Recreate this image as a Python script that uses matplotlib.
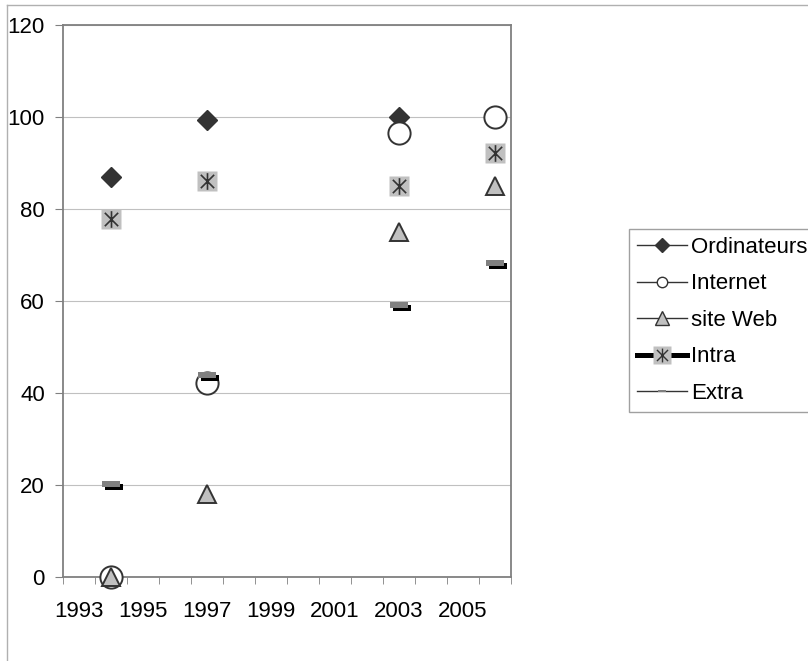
import numpy as np
import matplotlib.pyplot as plt
from matplotlib.lines import Line2D
from matplotlib.path import Path
from matplotlib.transforms import offset_copy

plt.rcParams['font.family'] = ['Liberation Sans', 'DejaVu Sans']

# data
years = [1994, 1997, 2003, 2006]
ordinateurs = [87, 99.3, 100, np.nan]
internet = [0, 42.2, 96.5, 100]
site_web = [0, 18, 75, 85]
intra = [77.8, 86.1, 85, 92.2]
extra = [20.2, 44, 59.1, 68.2]

labels = ['Ordinateurs', 'Internet', 'site Web', 'Intra', 'Extra']

dark = '#333333'
lgray = '#c0c0c0'
mgray = '#808080'

# excel-style asterisk: vertical bar + X
star = Path([(0, -1), (0, 1), (-0.8, -0.8), (0.8, 0.8), (-0.8, 0.8), (0.8, -0.8)],
            [Path.MOVETO, Path.LINETO, Path.MOVETO, Path.LINETO, Path.MOVETO, Path.LINETO])
dash = [(-1, -0.32), (1, -0.32), (1, 0.32), (-1, 0.32), (-1, -0.32)]

fig = plt.figure(figsize=(8.08, 6.61), dpi=100)
ax = fig.add_axes([63/808, 84/661, 448/808, 552/661])

ax.plot(years, ordinateurs, ls='none', marker='D', ms=10, mfc=dark, mec=dark, clip_on=False, zorder=3)
ax.plot(years, internet, ls='none', marker='o', ms=16, mfc='white', mec=dark, mew=1.4, clip_on=False, zorder=3)
ax.plot(years, site_web, ls='none', marker='^', ms=13, mfc=lgray, mec=dark, mew=1.4, clip_on=False, zorder=3)
ax.plot(years, intra, ls='none', marker='s', ms=14, mfc=lgray, mec='none', clip_on=False, zorder=3)
ax.plot(years, intra, ls='none', marker=star, ms=12, mec=dark, mew=1.2, clip_on=False, zorder=3)

shadow = offset_copy(ax.transData, fig=fig, x=3, y=-3, units='dots')
ax.plot(years, extra, ls='none', marker=dash, ms=13.5, mfc='black', mec='black', mew=0,
        transform=shadow, clip_on=False, zorder=3)
ax.plot(years, extra, ls='none', marker=dash, ms=13.5, mfc=mgray, mec=mgray, mew=0, clip_on=False, zorder=3)

# axes
ax.set_xlim(1992.5, 2006.5)
ax.set_ylim(0, 120)
ax.set_xticks(range(1993, 2006, 2))
ax.set_xticks(np.arange(1992.5, 2007, 1), minor=True)
ax.set_yticks(range(0, 121, 20))
ax.tick_params(axis='x', which='major', length=0, pad=17, labelsize=16)
ax.tick_params(axis='x', which='minor', length=5, color=mgray, direction='out')
ax.tick_params(axis='y', length=6, color=mgray, direction='out', pad=7, labelsize=16)
ax.yaxis.grid(True, color=lgray, lw=0.8)
ax.set_axisbelow(True)
for s in ax.spines.values():
    s.set_color(mgray)
    s.set_linewidth(1.3)

# legend
handles = [
    Line2D([], [], color=dark, lw=1, marker='D', ms=7.5, mfc=dark, mec=dark),
    Line2D([], [], color=dark, lw=1, marker='o', ms=7.5, mfc='white', mec=dark, mew=1),
    Line2D([], [], color=dark, lw=1, marker='^', ms=10, mfc=lgray, mec=dark, mew=1),
    (Line2D([], [], color='black', lw=3.6, marker='s', ms=13, mfc=lgray, mec='none'),
     Line2D([], [], ls='none', marker=star, ms=10, mec=dark, mew=1)),
    Line2D([], [], color=dark, lw=1, marker=dash, ms=6, mfc=mgray, mec=mgray, mew=0),
]
leg = fig.legend(handles, labels, loc='upper left', bbox_to_anchor=(629/808, 1 - 229/661),
                 frameon=True, fancybox=False, edgecolor='#a0a0a0', framealpha=1,
                 fontsize=16, handlelength=2.25, handletextpad=0.2, labelspacing=0.7,
                 borderpad=0.35, borderaxespad=0)
leg.get_frame().set_linewidth(1)

# outer chart border
fig.add_artist(Line2D([7/808, 1], [1 - 5/661, 1 - 5/661], transform=fig.transFigure, color='#b0b0b0', lw=1))
fig.add_artist(Line2D([7/808, 7/808], [0, 1 - 5/661], transform=fig.transFigure, color='#b0b0b0', lw=1))

fig.savefig('out.png', dpi=100)
